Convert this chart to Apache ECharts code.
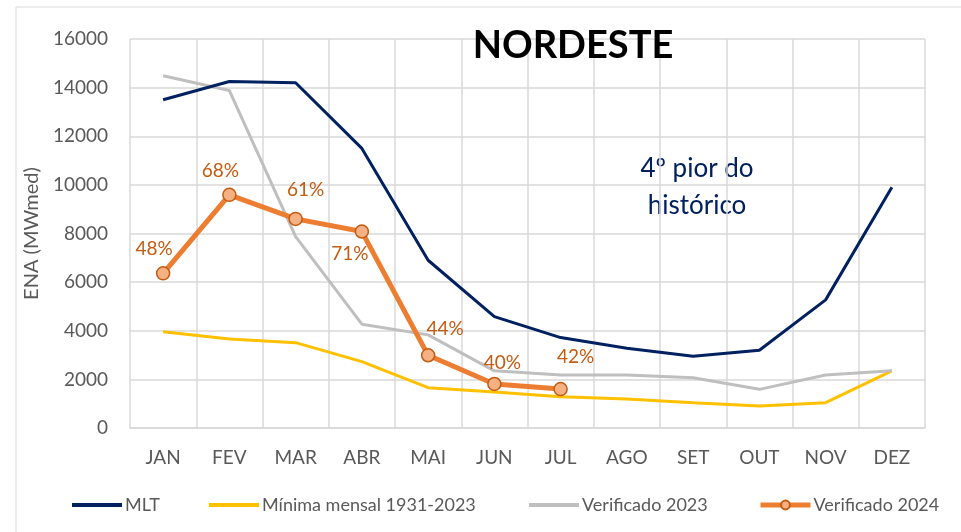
<!DOCTYPE html>
<html>
<head>
<meta charset="utf-8">
<script src="https://cdn.jsdelivr.net/npm/echarts@6/dist/echarts.min.js"></script>
<style>
  html, body { margin: 0; padding: 0; background: #fff; }
  #box { width: 961px; height: 532px; }
</style>
</head>
<body>
<div id="box"></div>
<script>
// dados
var meses = ['JAN', 'FEV', 'MAR', 'ABR', 'MAI', 'JUN', 'JUL', 'AGO', 'SET', 'OUT', 'NOV', 'DEZ'];
var mlt = [13500, 14250, 14200, 11500, 6900, 4580, 3720, 3280, 2950, 3200, 5270, 9900];
var minima = [3960, 3660, 3510, 2730, 1660, 1480, 1290, 1190, 1040, 900, 1040, 2350];
var verif2023 = [14490, 13880, 7870, 4270, 3830, 2350, 2180, 2180, 2070, 1590, 2180, 2350];
var verif2024 = [6360, 9590, 8600, 8080, 2990, 1810, 1600];
var pct2024 = ['48%', '68%', '61%', '71%', '44%', '40%', '42%'];
var yTicks = [0, 2000, 4000, 6000, 8000, 10000, 12000, 14000, 16000];

// deslocamento dos rótulos de % em relação ao ponto
var offsets = [[-9, -24], [-9, -24], [10, -29], [-12, 22], [17, -26], [8, -21], [15, -32]];

var fonte = 'Lato';
var cinzaTexto = '#595959';

var chart = echarts.init(document.getElementById('box'));

function legenda(nome, x, comPonto) {
    return {
        data: [comPonto ? { name: nome } : { name: nome, icon: 'rect' }],
        left: x,
        top: 491,
        itemWidth: 50,
        itemHeight: comPonto ? 11 : 4,
        itemGap: 0,
        lineStyle: { width: 5 },
        textStyle: { fontFamily: fonte, fontSize: 18, color: cinzaTexto, padding: [0, 0, 0, -2] }
    };
}

var option = {
    animation: false,
    backgroundColor: '#fff',
    textStyle: { fontFamily: fonte },
    title: {
        text: 'NORDESTE',
        left: 568,
        top: 22,
        textAlign: 'center',
        textStyle: { fontFamily: fonte, fontSize: 38, fontWeight: 'bold', color: '#000' }
    },
    graphic: [
        {
            type: 'rect',
            shape: { x: 16, y: 7, width: 1000, height: 600 },
            style: { fill: 'none', stroke: '#d9d9d9', lineWidth: 1 },
            silent: true
        },
        {
            type: 'text',
            x: 697,
            y: 150,
            style: {
                text: '4º pior do\nhistórico',
                fontFamily: fonte,
                fontSize: 26,
                lineHeight: 37,
                fill: '#002060',
                align: 'center'
            }
        }
    ],
    legend: [
        legenda('MLT', 67, false),
        legenda('Mínima mensal 1931-2023', 204, false),
        legenda('Verificado 2023', 524, false),
        legenda('Verificado 2024', 753, true)
    ],
    grid: { left: 130, right: 36, top: 39, bottom: 104 },
    xAxis: {
        type: 'category',
        data: meses,
        boundaryGap: true,
        axisTick: { show: false },
        axisLine: { lineStyle: { color: '#d9d9d9', width: 1.5 } },
        axisLabel: { color: cinzaTexto, fontSize: 19, fontFamily: fonte, margin: 20 },
        splitLine: { show: true, lineStyle: { color: '#d9d9d9', width: 1.5 } }
    },
    yAxis: {
        type: 'value',
        min: yTicks[0],
        max: yTicks[yTicks.length - 1],
        interval: 2000,
        name: 'ENA (MWmed)',
        nameLocation: 'middle',
        nameGap: 72,
        nameTextStyle: { color: cinzaTexto, fontSize: 20, fontFamily: fonte },
        axisLine: { show: false },
        axisTick: { show: false },
        axisLabel: {
            color: cinzaTexto, fontSize: 19, fontFamily: fonte, margin: 22,
            formatter: function (v) { return String(v); }
        },
        splitLine: { lineStyle: { color: '#d9d9d9', width: 1.5 } }
    },
    series: [
        {
            name: 'MLT',
            type: 'line',
            data: mlt,
            symbol: 'none',
            color: '#002060',
            lineStyle: { color: '#002060', width: 3 },
            z: 3
        },
        {
            name: 'Mínima mensal 1931-2023',
            type: 'line',
            data: minima,
            symbol: 'none',
            color: '#ffc000',
            lineStyle: { color: '#ffc000', width: 3 },
            z: 2
        },
        {
            name: 'Verificado 2023',
            type: 'line',
            data: verif2023,
            symbol: 'none',
            color: '#bfbfbf',
            lineStyle: { color: '#bfbfbf', width: 3 },
            z: 2
        },
        {
            name: 'Verificado 2024',
            type: 'line',
            data: verif2024.map(function (v, i) {
                return {
                    value: v,
                    label: { formatter: pct2024[i], offset: offsets[i] }
                };
            }),
            symbol: 'circle',
            symbolSize: 13,
            color: '#ed7d31',
            itemStyle: { color: '#f4b183', borderColor: '#c55a11', borderWidth: 1.5 },
            lineStyle: { color: '#ed7d31', width: 5 },
            label: {
                show: true,
                position: 'inside',
                fontFamily: fonte,
                fontSize: 19,
                color: '#c55a11'
            },
            z: 4
        }
    ]
};

chart.setOption(option);
</script>
</body>
</html>
